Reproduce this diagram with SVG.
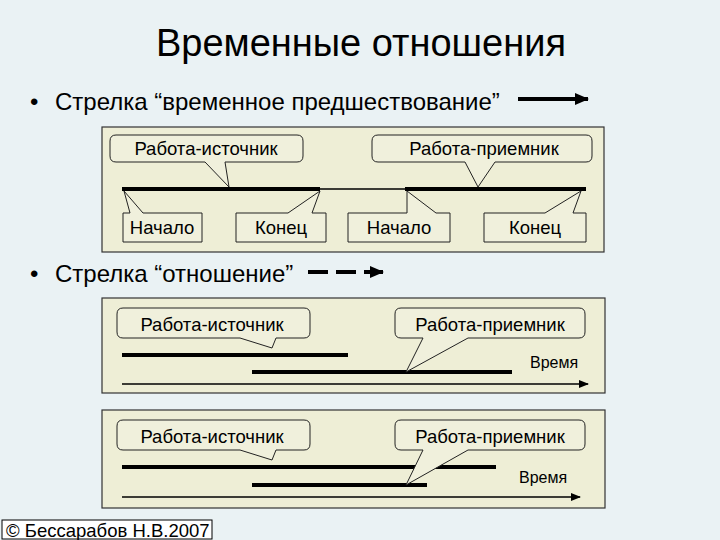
<svg xmlns="http://www.w3.org/2000/svg" width="720" height="540" viewBox="0 0 720 540">
<defs>
<style>
text{font-family:"Liberation Sans",Arial,sans-serif;fill:#000}
.panel{fill:#eeeed6;stroke:#333;stroke-width:1.2}
.co{fill:#f0f0dc;stroke:#222;stroke-width:1}
.thick{stroke:#000;stroke-width:4}
.thin{stroke:#000;stroke-width:1.3}
.lbl{font-size:18.5px;text-anchor:middle}
</style>
<marker id="ah" markerWidth="10" markerHeight="8" refX="9" refY="4" orient="auto" markerUnits="userSpaceOnUse"><path d="M0,0 L10,4 L0,8 Z" fill="#000"/></marker>
<marker id="big" markerWidth="14" markerHeight="12" refX="13" refY="6" orient="auto" markerUnits="userSpaceOnUse"><path d="M0,0 L14,6 L0,12 Z" fill="#000"/></marker>
</defs>
<rect width="720" height="540" fill="#eaf2f4"/>
<text x="361" y="56" font-size="38" text-anchor="middle">Временные отношения</text>
<text x="30" y="110" font-size="24">•</text>
<text x="55" y="110" font-size="24">Стрелка “временное предшествование”</text>
<text x="30" y="282" font-size="24">•</text>
<text x="55" y="282" font-size="24">Стрелка “отношение”</text>
<g id="legend">
<line x1="518" y1="99" x2="588" y2="99" stroke="#000" stroke-width="4" marker-end="url(#big)"/>
<line x1="308" y1="272" x2="383" y2="272" stroke="#000" stroke-width="4" stroke-dasharray="20,8" marker-end="url(#big)"/>
</g>
<rect class="panel" x="102" y="127" width="502" height="125"/>
<rect class="panel" x="102" y="298" width="503" height="95"/>
<rect class="panel" x="102" y="410" width="503" height="98"/>
<g id="connectors">
<line class="thick" x1="122" y1="189" x2="320" y2="189"/>
<line class="thin" x1="320" y1="189" x2="405" y2="189"/>
<line class="thick" x1="405" y1="189" x2="586" y2="189"/>
<line class="thick" x1="122" y1="355" x2="348" y2="355"/>
<line class="thick" x1="252" y1="372" x2="512" y2="372"/>
<line class="thin" x1="122" y1="384" x2="588" y2="384" marker-end="url(#ah)"/>
<line class="thick" x1="122" y1="467" x2="496" y2="467"/>
<line class="thick" x1="252" y1="485" x2="427" y2="485"/>
<line class="thin" x1="122" y1="497" x2="580" y2="497" marker-end="url(#ah)"/>
</g>
<g id="src1"><path class="co" d="M116,135 H297 Q303,135 303,141 V156 Q303,162 297,162 H225 L229,187 L205,162 H116 Q110,162 110,156 V141 Q110,135 116,135 Z"/><text class="lbl" x="206" y="155">Работа-источник</text></g>
<g id="dst1"><path class="co" d="M378,135 H586 Q592,135 592,141 V156 Q592,162 586,162 H495 L478,187 L465,162 H378 Q372,162 372,156 V141 Q372,135 378,135 Z"/><text class="lbl" x="484" y="155">Работа-приемник</text></g>
<g id="start1"><path class="co" d="M123,213 H130 L124,191 L143,213 H202 V242 H123 Z"/><text class="lbl" x="162" y="234">Начало</text></g>
<g id="end1"><path class="co" d="M236,213 H288 L320,191 L312,213 H326 V242 H236 Z"/><text class="lbl" x="281" y="234">Конец</text></g>
<g id="start2"><path class="co" d="M348,213 H407 V191 L436,213 H450 V242 H348 Z"/><text class="lbl" x="399" y="234">Начало</text></g>
<g id="end2"><path class="co" d="M484,213 H545 L581,191 L573,213 H586 V242 H484 Z"/><text class="lbl" x="535" y="234">Конец</text></g>
<g id="src2"><path class="co" d="M123,308 H304 Q310,308 310,314 V332 Q310,338 304,338 H276 L272,348 L240,338 H123 Q117,338 117,332 V314 Q117,308 123,308 Z"/><text class="lbl" x="212" y="331">Работа-источник</text></g>
<g id="dst2"><path class="co" d="M401,308 H579 Q585,308 585,314 V332 Q585,338 579,338 H468 L406,372 L423,338 H401 Q395,338 395,332 V314 Q395,308 401,308 Z"/><text class="lbl" x="490" y="331">Работа-приемник</text></g>
<text x="530" y="368" font-size="16">Время</text>
<g id="src3"><path class="co" d="M123,420 H304 Q310,420 310,426 V444 Q310,450 304,450 H276 L272,460 L240,450 H123 Q117,450 117,444 V426 Q117,420 123,420 Z"/><text class="lbl" x="212" y="443">Работа-источник</text></g>
<g id="dst3"><path class="co" d="M401,420 H579 Q585,420 585,426 V444 Q585,450 579,450 H468 L406,485 L423,450 H401 Q395,450 395,444 V426 Q395,420 401,420 Z"/><text class="lbl" x="490" y="443">Работа-приемник</text></g>
<text x="519" y="483" font-size="16">Время</text>
<rect x="2" y="520" width="210" height="19" fill="#fff" stroke="#000" stroke-width="1"/>
<text x="6" y="537" font-size="18.5">© Бессарабов Н.В.2007</text>
</svg>
